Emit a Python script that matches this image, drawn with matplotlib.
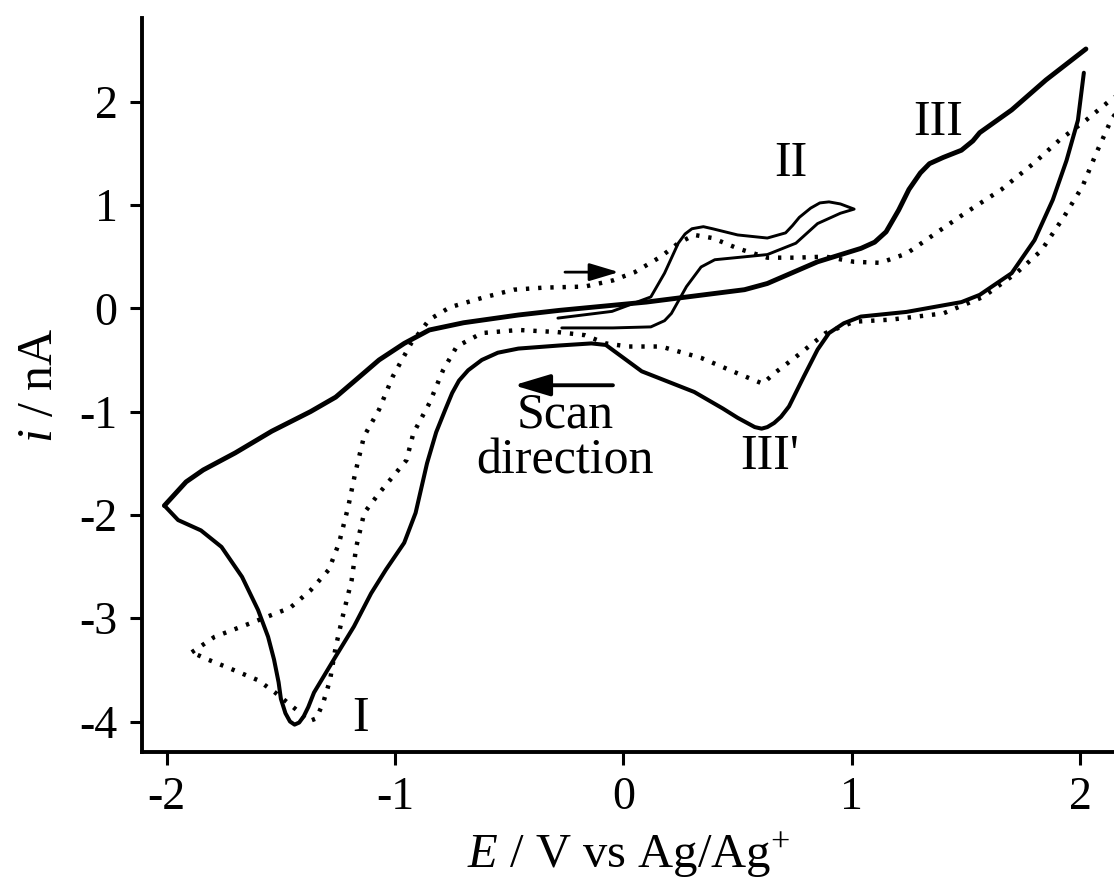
import matplotlib
matplotlib.use('Agg')
from matplotlib import pyplot as plt

plt.rcParams['font.family'] = ['Liberation Serif', 'DejaVu Serif']
plt.rcParams['mathtext.fontset'] = 'custom'
plt.rcParams['mathtext.rm'] = 'Liberation Serif'
plt.rcParams['mathtext.it'] = 'Liberation Serif:italic'
plt.rcParams['axes.unicode_minus'] = False

# wide scan (-2 V to 2 V), cathodic sweep then anodic sweep
wide_cath_E = [2.016, 1.99, 1.94, 1.88, 1.80, 1.70, 1.56, 1.48, 1.24, 1.04,
               0.965, 0.90, 0.85, 0.79, 0.725, 0.69, 0.66, 0.63, 0.605, 0.575,
               0.55, 0.50, 0.435, 0.31, 0.08, 0.0, -0.077, -0.14, -0.28, -0.46,
               -0.55, -0.62, -0.68, -0.72, -0.75, -0.78, -0.82, -0.86, -0.91, -0.96,
               -1.04, -1.105, -1.18, -1.26, -1.355, -1.38, -1.40, -1.42, -1.44, -1.46,
               -1.48, -1.50, -1.51, -1.53, -1.556, -1.60, -1.67, -1.76, -1.85, -1.95,
               -2.01]
wide_cath_i = [2.28, 1.82, 1.43, 1.05, 0.66, 0.34, 0.13, 0.06, -0.035, -0.08,
               -0.145, -0.24, -0.40, -0.66, -0.95, -1.05, -1.11, -1.15, -1.165, -1.15,
               -1.12, -1.06, -0.97, -0.81, -0.61, -0.48, -0.355, -0.34, -0.36, -0.39,
               -0.43, -0.50, -0.60, -0.70, -0.82, -0.98, -1.20, -1.50, -1.98, -2.27,
               -2.53, -2.76, -3.08, -3.37, -3.72, -3.86, -3.95, -4.01, -4.03, -4.0,
               -3.92, -3.78, -3.62, -3.40, -3.18, -2.92, -2.60, -2.31, -2.15, -2.05,
               -1.91]
wide_an_E = [-2.01, -1.915, -1.84, -1.70, -1.54, -1.37, -1.26, -1.17, -1.07, -0.96,
             -0.85, -0.70, -0.46, -0.28, 0.10, 0.53, 0.63, 0.85, 1.04, 1.10,
             1.15, 1.205, 1.25, 1.30, 1.34, 1.40, 1.48, 1.53, 1.56, 1.70,
             1.85, 2.025]
wide_an_i = [-1.91, -1.68, -1.565, -1.40, -1.19, -1.0, -0.86, -0.69, -0.50, -0.34,
             -0.21, -0.14, -0.065, -0.02, 0.06, 0.18, 0.24, 0.45, 0.58, 0.64,
             0.74, 0.95, 1.15, 1.31, 1.40, 1.46, 1.53, 1.62, 1.70, 1.92,
             2.21, 2.51]

# narrow scan around couple II
narrow_E = [-0.287, -0.05, 0.12, 0.18, 0.24, 0.27, 0.30, 0.35, 0.39, 0.50, 0.63, 0.71,
            0.74, 0.77, 0.82, 0.86, 0.90, 0.95, 1.01, 0.95, 0.85, 0.755, 0.63, 0.40,
            0.34, 0.276, 0.21, 0.18, 0.12, -0.046, -0.27]
narrow_i = [-0.095, -0.03, 0.11, 0.34, 0.63, 0.72, 0.77, 0.79, 0.77, 0.71, 0.68, 0.73,
            0.80, 0.88, 0.97, 1.02, 1.03, 1.01, 0.96, 0.92, 0.82, 0.63, 0.52, 0.47,
            0.40, 0.21, -0.05, -0.12, -0.18, -0.19, -0.19]

# dotted curve: anodic sweep from the negative vertex, then back
dot_an_E = [-1.89, -1.79, -1.635, -1.46, -1.37, -1.29, -1.245, -1.205, -1.175, -1.136,
            -1.07, -1.01, -0.93, -0.85, -0.76, -0.62, -0.48, -0.35, -0.17, -0.046,
            0.05, 0.164, 0.24, 0.31, 0.39, 0.50, 0.63, 0.755, 0.885, 1.01,
            1.125, 1.24, 1.37, 1.495, 1.655, 1.80, 1.91, 2.025, 2.135, 2.19]
dot_an_i = [-3.33, -3.18, -3.05, -2.90, -2.73, -2.53, -2.27, -1.92, -1.60, -1.24,
            -0.98, -0.66, -0.34, -0.11, 0.01, 0.10, 0.18, 0.20, 0.21, 0.27,
            0.35, 0.50, 0.63, 0.71, 0.68, 0.58, 0.49, 0.49, 0.50, 0.45,
            0.44, 0.53, 0.73, 0.92, 1.15, 1.41, 1.63, 1.82, 2.02, 2.10]
dot_cath_E = [2.19, 2.135, 2.07, 2.01, 1.93, 1.83, 1.72, 1.575, 1.40, 1.17, 1.01,
              0.885, 0.755, 0.66, 0.61, 0.50, 0.34, 0.164, 0.02, -0.077, -0.17,
              -0.29, -0.46, -0.62, -0.73, -0.79, -0.85, -0.92, -0.95, -1.07, -1.135,
              -1.17, -1.19, -1.23, -1.26, -1.285, -1.315, -1.345, -1.38, -1.43, -1.525,
              -1.60, -1.73, -1.82, -1.89]
dot_cath_i = [2.0, 1.82, 1.50, 1.18, 0.89, 0.56, 0.34, 0.11, -0.05, -0.11, -0.13,
              -0.24, -0.47, -0.63, -0.73, -0.63, -0.48, -0.37, -0.37, -0.34, -0.26,
              -0.23, -0.21, -0.24, -0.37, -0.60, -0.92, -1.21, -1.47, -1.79, -1.98,
              -2.31, -2.63, -2.99, -3.28, -3.60, -3.82, -3.97, -4.0, -3.89, -3.72,
              -3.60, -3.48, -3.40, -3.33]

xticks = [-2, -1, 0, 1, 2]
yticks = [2, 1, 0, -1, -2, -3, -4]

fig = plt.figure(figsize=(11.14, 8.82), dpi=100)
ax = fig.add_axes([0.1279, 0.1474, 0.8721, 0.8322])

ax.plot(dot_an_E + dot_cath_E, dot_an_i + dot_cath_i, color='black', lw=3.2,
        linestyle=(0, (0.75, 2.0)), dash_capstyle='butt')
ax.plot(wide_cath_E, wide_cath_i, color='black', lw=2.9,
        solid_joinstyle='round', solid_capstyle='round')
ax.plot(wide_an_E, wide_an_i, color='black', lw=3.5,
        solid_joinstyle='round', solid_capstyle='round')
ax.plot(narrow_E, narrow_i, color='black', lw=2.1,
        solid_joinstyle='round', solid_capstyle='round')

ax.set_xlim(-2.106, 2.148)
ax.set_ylim(-4.295, 2.81)
ax.set_xticks(xticks)
ax.set_yticks(yticks)
ax.set_xticklabels([str(t) for t in xticks])
ax.set_yticklabels([str(t) for t in yticks])
ax.tick_params(direction='out', length=9, width=2.2, labelsize=33, pad=9)

for side in ['top', 'right']:
    ax.spines[side].set_visible(False)
for side in ['left', 'bottom']:
    ax.spines[side].set_linewidth(2.8)

ax.set_xlabel('$E$ / V vs Ag/Ag$^{+}$', fontsize=35, labelpad=8)
ax.set_ylabel('$i$ / nA', fontsize=36, labelpad=12)

# peak labels
ax.text(-1.153, -3.97, 'I', fontsize=36, ha='center', va='center')
ax.text(0.734, 1.40, 'II', fontsize=36, ha='center', va='center')
ax.text(1.377, 1.80, 'III', fontsize=36, ha='center', va='center')
ax.text(0.64, -1.44, "III'", fontsize=36, ha='center', va='center')
ax.text(-0.256, -1.26, 'Scan\ndirection', fontsize=36, ha='center', va='center',
        linespacing=1.0)

# scan direction arrows
ax.annotate('', xy=(-0.48, -0.745), xytext=(-0.046, -0.745),
            arrowprops=dict(arrowstyle='-|>,head_length=1.0,head_width=0.3',
                            lw=2.8, color='black', mutation_scale=22,
                            shrinkA=0, shrinkB=0))
ax.annotate('', xy=(-0.02, 0.35), xytext=(-0.256, 0.35),
            arrowprops=dict(arrowstyle='-|>,head_length=1.0,head_width=0.3',
                            lw=2.0, color='black', mutation_scale=18,
                            shrinkA=0, shrinkB=0))

fig.savefig('out.png', dpi=100)
